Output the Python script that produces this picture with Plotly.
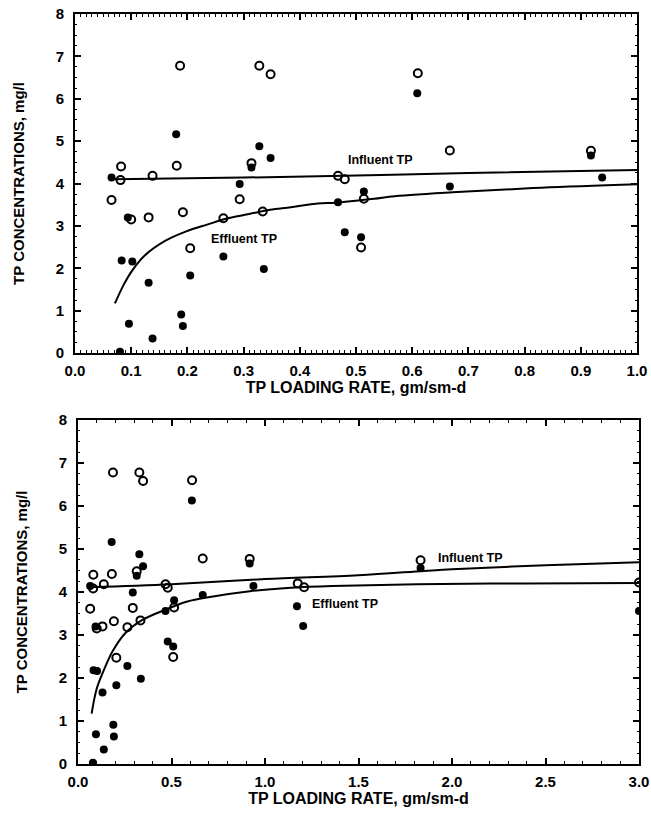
import plotly.graph_objects as go

# ---- data ----
# Influent TP (open circles)
inf_x = [0.065, 0.082, 0.081, 0.100, 0.131, 0.138, 0.181, 0.187, 0.192, 0.205,
         0.264, 0.293, 0.314, 0.328, 0.348, 0.334, 0.468, 0.480, 0.514, 0.509,
         0.610, 0.667, 0.918, 1.175, 1.209, 1.832, 3.000]
inf_y = [3.61, 4.40, 4.08, 3.15, 3.20, 4.18, 4.42, 6.78, 3.32, 2.47,
         3.18, 3.63, 4.48, 6.78, 6.58, 3.34, 4.18, 4.10, 3.64, 2.49,
         6.60, 4.78, 4.77, 4.20, 4.11, 4.74, 4.22]
# Effluent TP (filled circles)
eff_x = [0.065, 0.083, 0.102, 0.096, 0.094, 0.131, 0.138, 0.180, 0.189, 0.192,
         0.205, 0.264, 0.293, 0.314, 0.328, 0.348, 0.336, 0.468, 0.480, 0.514,
         0.509, 0.609, 0.667, 0.918, 0.938, 0.080, 1.171, 1.204, 1.832, 3.000]
eff_y = [4.14, 2.18, 2.16, 0.69, 3.20, 1.66, 0.34, 5.16, 0.91, 0.64,
         1.83, 2.28, 3.99, 4.38, 4.88, 4.60, 1.98, 3.56, 2.85, 3.81,
         2.73, 6.13, 3.93, 4.66, 4.14, 0.03, 3.67, 3.21, 4.56, 3.56]

# fitted curves, top panel (0-1.0)
fit1_inf_x = [0.07, 0.30, 0.50, 0.70, 1.00]
fit1_inf_y = [4.10, 4.14, 4.19, 4.25, 4.32]
fit1_eff_x = [0.071, 0.087, 0.102, 0.124, 0.161, 0.198, 0.235, 0.272, 0.310, 0.347,
              0.384, 0.420, 0.473, 0.532, 0.569, 0.680, 0.830, 1.000]
fit1_eff_y = [1.17, 1.62, 1.95, 2.30, 2.65, 2.87, 3.03, 3.18, 3.28, 3.38,
              3.44, 3.51, 3.56, 3.64, 3.70, 3.80, 3.90, 3.98]
# fitted curves, bottom panel (0-3.0)
fit2_inf_x = [0.06, 0.50, 1.00, 1.50, 1.85, 2.00, 2.50, 3.00]
fit2_inf_y = [4.11, 4.18, 4.30, 4.39, 4.49, 4.53, 4.62, 4.69]
fit2_eff_x = [0.073, 0.10, 0.14, 0.185, 0.25, 0.34, 0.474, 0.585, 0.697, 0.919,
              1.14, 1.36, 1.81, 2.40, 3.00]
fit2_eff_y = [1.17, 1.75, 2.20, 2.62, 3.03, 3.34, 3.60, 3.78, 3.88, 4.02,
              4.10, 4.14, 4.18, 4.20, 4.21]

x1_ticks = [0.0, 0.1, 0.2, 0.3, 0.4, 0.5, 0.6, 0.7, 0.8, 0.9, 1.0]
x2_ticks = [0.0, 0.5, 1.0, 1.5, 2.0, 2.5, 3.0]
y_ticks = [0, 1, 2, 3, 4, 5, 6, 7, 8]

FONT = "Liberation Sans, Arial, Helvetica, sans-serif"
W, H = 651, 816

fig = go.Figure()

def add_panel(xa, ya, fit_ix, fit_iy, fit_ex, fit_ey):
    fig.add_trace(go.Scatter(x=inf_x, y=inf_y, mode="markers", xaxis=xa, yaxis=ya,
                             marker=dict(symbol="circle-open", size=8, color="black",
                                         line=dict(width=2, color="black")),
                             showlegend=False))
    fig.add_trace(go.Scatter(x=eff_x, y=eff_y, mode="markers", xaxis=xa, yaxis=ya,
                             marker=dict(symbol="circle", size=8, color="black"),
                             showlegend=False))
    fig.add_trace(go.Scatter(x=fit_ix, y=fit_iy, mode="lines", xaxis=xa, yaxis=ya,
                             line=dict(color="black", width=2, shape="spline"),
                             showlegend=False))
    fig.add_trace(go.Scatter(x=fit_ex, y=fit_ey, mode="lines", xaxis=xa, yaxis=ya,
                             line=dict(color="black", width=2, shape="spline"),
                             showlegend=False))

add_panel("x", "y", fit1_inf_x, fit1_inf_y, fit1_eff_x, fit1_eff_y)
add_panel("x2", "y2", fit2_inf_x, fit2_inf_y, fit2_eff_x, fit2_eff_y)

tickfont = dict(family=FONT, size=15, color="black")

def xaxis(domain, anchor, rng, ticks, minor_dt):
    return dict(domain=domain, anchor=anchor, range=rng, tickvals=ticks,
                ticktext=[f"<b>{t:.1f}</b>" for t in ticks], automargin=False,
                showline=True, linewidth=2, linecolor="black", mirror="ticks",
                ticks="inside", ticklen=6, tickwidth=1.5, tickcolor="black",
                ticklabelstandoff=3, ticklabeloverflow="allow",
                showgrid=False, zeroline=False, tickfont=tickfont,
                minor=dict(dtick=minor_dt, ticks="inside", ticklen=3, tickwidth=1,
                           tickcolor="black", showgrid=False),
                title=dict(text="<b>TP LOADING RATE, gm/sm-d</b>",
                           font=dict(family=FONT, size=16, color="black"), standoff=3))

def yaxis(domain, anchor):
    return dict(domain=domain, anchor=anchor, range=[0, 8], tickvals=y_ticks,
                ticktext=[f"<b>{t}</b>" for t in y_ticks], automargin=False,
                showline=True, linewidth=2, linecolor="black", mirror="ticks",
                ticks="inside", ticklen=6, tickwidth=1.5, tickcolor="black",
                ticklabelstandoff=6,
                showgrid=False, zeroline=False, tickfont=tickfont,
                minor=dict(dtick=0.25, ticks="inside", ticklen=2, tickwidth=1,
                           tickcolor="black", showgrid=False),
                title=dict(text="<b>TP CONCENTRATIONS, mg/l</b>",
                           font=dict(family=FONT, size=15, color="black"), standoff=27))

fig.update_layout(
    width=W, height=H,
    margin=dict(l=0, r=0, t=0, b=0, autoexpand=False),
    paper_bgcolor="white", plot_bgcolor="white",
    xaxis=xaxis([75 / W, 637 / W], "y", [0, 1.0], x1_ticks, 0.01),
    yaxis=yaxis([(H - 353) / H, (H - 14) / H], "x"),
    xaxis2=xaxis([78 / W, 639 / W], "y2", [0, 3.0], x2_ticks, 0.1),
    yaxis2=yaxis([(H - 764) / H, (H - 420) / H], "x2"),
)

lab = dict(family=FONT, size=12.5, color="black")
fig.add_annotation(x=0.543, y=4.55, xref="x", yref="y", text="<b>Influent TP</b>",
                   showarrow=False, font=lab)
fig.add_annotation(x=0.30, y=2.70, xref="x", yref="y", text="<b>Effluent TP</b>",
                   showarrow=False, font=lab)
fig.add_annotation(x=2.10, y=4.79, xref="x2", yref="y2", text="<b>Influent TP</b>",
                   showarrow=False, font=lab)
fig.add_annotation(x=1.43, y=3.72, xref="x2", yref="y2", text="<b>Effluent TP</b>",
                   showarrow=False, font=lab)

fig.write_html("out.html", config={"displayModeBar": False},
               post_script="document.body.style.margin='0';document.body.style.overflow='hidden';")
